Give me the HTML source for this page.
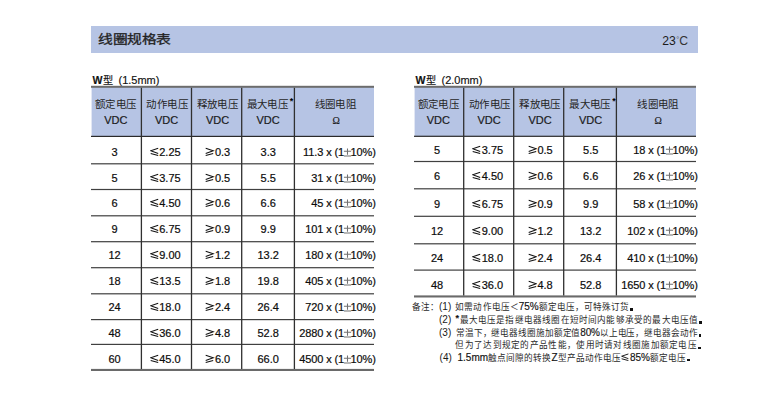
<!DOCTYPE html><html lang="zh-CN"><head><meta charset="utf-8"><style>
html,body{margin:0;padding:0;background:#fff}
body{width:760px;height:409px;position:relative;overflow:hidden;font-family:"Liberation Sans",sans-serif;color:#111}
.r{position:absolute}
.t,.hv,.hc,.lbl,.nt{position:absolute;white-space:nowrap;line-height:20px;font-size:11px}
.t{color:#0c0c0c;-webkit-text-stroke:0.2px #0c0c0c}
.g{display:inline-block;width:9.5px;height:0;position:relative;vertical-align:baseline}
.g svg{position:absolute;left:0;top:-11.5px}
.g2{width:9px}
.g2 svg{top:-11px;transform:scale(0.9);transform-origin:0 100%}
.hc{text-align:center;font-size:10.5px;color:#262626;letter-spacing:0.35px;text-indent:0.35px}
.hv{color:#1a1a1a;-webkit-text-stroke:0.2px #1a1a1a}
.st{font-size:9px;position:absolute;margin-left:1.3px;margin-top:-3px;color:#000;font-weight:bold}
.om{font-family:"Liberation Serif",serif;font-size:11px;display:inline-block;transform:scaleX(0.9)}
.lbl{color:#111;-webkit-text-stroke:0.15px #111}
.w{font-size:10.6px}
.pm{color:#555}
.tl5{letter-spacing:-0.1px}
.nt{font-size:8.6px;color:#2a2a2a;line-height:20px}
.nt .l{font-size:10px;color:#111;-webkit-text-stroke:0.15px #111}
.nt .lp{-webkit-text-stroke:0;color:#1a1a1a}
.dot{position:relative;color:transparent}
.dot:after{content:'';position:absolute;left:1.2px;bottom:1.5px;width:2.4px;height:2.4px;background:#111}
</style></head><body>
<div class="r" style="left:91.00px;top:26.00px;width:607.00px;height:27.00px;background:#b6c4e4"></div>
<div class="r" style="left:97.5px;top:29.4px;font-size:14.2px;transform:scale(1.04,0.88);transform-origin:0 14px;line-height:20px;white-space:nowrap;color:#222;-webkit-text-stroke:0.35px #222">线圈规格表</div>
<div class="r" style="left:662.3px;top:31px;font-size:12.2px;line-height:20px;white-space:nowrap;color:#1a1a1a">23<span style="font-size:7.5px;position:relative;top:-3px;margin-left:0.4px;color:#555">°</span><span style="color:#333">C</span></div>
<div class="lbl" style="left:92.60px;top:69.5px;"><b class="w">W</b><span style="font-size:10.2px;margin-left:0.3px">型</span><span style="margin-left:5.6px">(</span>1.5mm)</div>
<svg class="r" style="left:0;top:0" width="760" height="409"><rect x="91.6" y="86.8" width="282.4" height="49.500000000000014" fill="#b6c4e4"/></svg>
<div class="hc" style="left:55.65px;width:120px;top:94px">额定电压</div>
<div class="hv" style="left:55.90px;width:120px;text-align:center;top:110px">VDC</div>
<div class="hc" style="left:107.00px;width:120px;top:94px">动作电压</div>
<div class="hv" style="left:106.65px;width:120px;text-align:center;top:110px">VDC</div>
<div class="hc" style="left:157.20px;width:120px;top:94px">释放电压</div>
<div class="hv" style="left:157.65px;width:120px;text-align:center;top:110px">VDC</div>
<div class="hc" style="left:207.30px;width:120px;top:94px">最大电压<span class="st">*</span></div>
<div class="hv" style="left:208.00px;width:120px;text-align:center;top:110px">VDC</div>
<div class="hc" style="left:275.30px;width:120px;top:94px">线圈电阻</div>
<div class="hv" style="left:275.60px;width:120px;text-align:center;top:110px"><span class="om">Ω</span></div>
<div class="t" style="left:54.60px;width:120px;text-align:center;top:142px">3</div>
<div class="t" style="left:105.20px;width:120px;text-align:center;top:142px"><span class="g"><svg width="9.5" height="11" viewBox="0 0 9.5 11"><path d="M8.2 3.2L0.7 5.7L8.2 8.4M0.7 8.5L8.2 10.5" fill="none" stroke="#111" stroke-width="1.05"/></svg></span>2.25</div>
<div class="t" style="left:157.80px;width:120px;text-align:center;top:142px"><span class="g"><svg width="9.5" height="11" viewBox="0 0 9.5 11"><path d="M0.7 3.2L8.2 5.7L0.7 8.4M0.7 10.5L8.2 8.5" fill="none" stroke="#111" stroke-width="1.05"/></svg></span>0.3</div>
<div class="t" style="left:208.20px;width:120px;text-align:center;top:142px">3.3</div>
<div class="t tl5" style="right:384.20px;text-align:right;top:142px">11.3 x (1<span class="g" style="width:7.6px;margin-left:-1.2px"><svg width="8.6" height="13" viewBox="0 0 8.6 13"><path d="M0.9 6.3H8.1M4.5 3.4V9.8M0.9 11H8.1" fill="none" stroke="#707070" stroke-width="1.05"/></svg></span>10%)</div>
<div class="t" style="left:54.60px;width:120px;text-align:center;top:168px">5</div>
<div class="t" style="left:105.20px;width:120px;text-align:center;top:168px"><span class="g"><svg width="9.5" height="11" viewBox="0 0 9.5 11"><path d="M8.2 3.2L0.7 5.7L8.2 8.4M0.7 8.5L8.2 10.5" fill="none" stroke="#111" stroke-width="1.05"/></svg></span>3.75</div>
<div class="t" style="left:157.80px;width:120px;text-align:center;top:168px"><span class="g"><svg width="9.5" height="11" viewBox="0 0 9.5 11"><path d="M0.7 3.2L8.2 5.7L0.7 8.4M0.7 10.5L8.2 8.5" fill="none" stroke="#111" stroke-width="1.05"/></svg></span>0.5</div>
<div class="t" style="left:208.20px;width:120px;text-align:center;top:168px">5.5</div>
<div class="t tl5" style="right:384.20px;text-align:right;top:168px">31 x (1<span class="g" style="width:7.6px;margin-left:-1.2px"><svg width="8.6" height="13" viewBox="0 0 8.6 13"><path d="M0.9 6.3H8.1M4.5 3.4V9.8M0.9 11H8.1" fill="none" stroke="#707070" stroke-width="1.05"/></svg></span>10%)</div>
<div class="t" style="left:54.60px;width:120px;text-align:center;top:193px">6</div>
<div class="t" style="left:105.20px;width:120px;text-align:center;top:193px"><span class="g"><svg width="9.5" height="11" viewBox="0 0 9.5 11"><path d="M8.2 3.2L0.7 5.7L8.2 8.4M0.7 8.5L8.2 10.5" fill="none" stroke="#111" stroke-width="1.05"/></svg></span>4.50</div>
<div class="t" style="left:157.80px;width:120px;text-align:center;top:193px"><span class="g"><svg width="9.5" height="11" viewBox="0 0 9.5 11"><path d="M0.7 3.2L8.2 5.7L0.7 8.4M0.7 10.5L8.2 8.5" fill="none" stroke="#111" stroke-width="1.05"/></svg></span>0.6</div>
<div class="t" style="left:208.20px;width:120px;text-align:center;top:193px">6.6</div>
<div class="t tl5" style="right:384.20px;text-align:right;top:193px">45 x (1<span class="g" style="width:7.6px;margin-left:-1.2px"><svg width="8.6" height="13" viewBox="0 0 8.6 13"><path d="M0.9 6.3H8.1M4.5 3.4V9.8M0.9 11H8.1" fill="none" stroke="#707070" stroke-width="1.05"/></svg></span>10%)</div>
<div class="t" style="left:54.60px;width:120px;text-align:center;top:219px">9</div>
<div class="t" style="left:105.20px;width:120px;text-align:center;top:219px"><span class="g"><svg width="9.5" height="11" viewBox="0 0 9.5 11"><path d="M8.2 3.2L0.7 5.7L8.2 8.4M0.7 8.5L8.2 10.5" fill="none" stroke="#111" stroke-width="1.05"/></svg></span>6.75</div>
<div class="t" style="left:157.80px;width:120px;text-align:center;top:219px"><span class="g"><svg width="9.5" height="11" viewBox="0 0 9.5 11"><path d="M0.7 3.2L8.2 5.7L0.7 8.4M0.7 10.5L8.2 8.5" fill="none" stroke="#111" stroke-width="1.05"/></svg></span>0.9</div>
<div class="t" style="left:208.20px;width:120px;text-align:center;top:219px">9.9</div>
<div class="t tl5" style="right:384.20px;text-align:right;top:219px">101 x (1<span class="g" style="width:7.6px;margin-left:-1.2px"><svg width="8.6" height="13" viewBox="0 0 8.6 13"><path d="M0.9 6.3H8.1M4.5 3.4V9.8M0.9 11H8.1" fill="none" stroke="#707070" stroke-width="1.05"/></svg></span>10%)</div>
<div class="t" style="left:54.60px;width:120px;text-align:center;top:245px">12</div>
<div class="t" style="left:105.20px;width:120px;text-align:center;top:245px"><span class="g"><svg width="9.5" height="11" viewBox="0 0 9.5 11"><path d="M8.2 3.2L0.7 5.7L8.2 8.4M0.7 8.5L8.2 10.5" fill="none" stroke="#111" stroke-width="1.05"/></svg></span>9.00</div>
<div class="t" style="left:157.80px;width:120px;text-align:center;top:245px"><span class="g"><svg width="9.5" height="11" viewBox="0 0 9.5 11"><path d="M0.7 3.2L8.2 5.7L0.7 8.4M0.7 10.5L8.2 8.5" fill="none" stroke="#111" stroke-width="1.05"/></svg></span>1.2</div>
<div class="t" style="left:208.20px;width:120px;text-align:center;top:245px">13.2</div>
<div class="t tl5" style="right:384.20px;text-align:right;top:245px">180 x (1<span class="g" style="width:7.6px;margin-left:-1.2px"><svg width="8.6" height="13" viewBox="0 0 8.6 13"><path d="M0.9 6.3H8.1M4.5 3.4V9.8M0.9 11H8.1" fill="none" stroke="#707070" stroke-width="1.05"/></svg></span>10%)</div>
<div class="t" style="left:54.60px;width:120px;text-align:center;top:271px">18</div>
<div class="t" style="left:105.20px;width:120px;text-align:center;top:271px"><span class="g"><svg width="9.5" height="11" viewBox="0 0 9.5 11"><path d="M8.2 3.2L0.7 5.7L8.2 8.4M0.7 8.5L8.2 10.5" fill="none" stroke="#111" stroke-width="1.05"/></svg></span>13.5</div>
<div class="t" style="left:157.80px;width:120px;text-align:center;top:271px"><span class="g"><svg width="9.5" height="11" viewBox="0 0 9.5 11"><path d="M0.7 3.2L8.2 5.7L0.7 8.4M0.7 10.5L8.2 8.5" fill="none" stroke="#111" stroke-width="1.05"/></svg></span>1.8</div>
<div class="t" style="left:208.20px;width:120px;text-align:center;top:271px">19.8</div>
<div class="t tl5" style="right:384.20px;text-align:right;top:271px">405 x (1<span class="g" style="width:7.6px;margin-left:-1.2px"><svg width="8.6" height="13" viewBox="0 0 8.6 13"><path d="M0.9 6.3H8.1M4.5 3.4V9.8M0.9 11H8.1" fill="none" stroke="#707070" stroke-width="1.05"/></svg></span>10%)</div>
<div class="t" style="left:54.60px;width:120px;text-align:center;top:297px">24</div>
<div class="t" style="left:105.20px;width:120px;text-align:center;top:297px"><span class="g"><svg width="9.5" height="11" viewBox="0 0 9.5 11"><path d="M8.2 3.2L0.7 5.7L8.2 8.4M0.7 8.5L8.2 10.5" fill="none" stroke="#111" stroke-width="1.05"/></svg></span>18.0</div>
<div class="t" style="left:157.80px;width:120px;text-align:center;top:297px"><span class="g"><svg width="9.5" height="11" viewBox="0 0 9.5 11"><path d="M0.7 3.2L8.2 5.7L0.7 8.4M0.7 10.5L8.2 8.5" fill="none" stroke="#111" stroke-width="1.05"/></svg></span>2.4</div>
<div class="t" style="left:208.20px;width:120px;text-align:center;top:297px">26.4</div>
<div class="t tl5" style="right:384.20px;text-align:right;top:297px">720 x (1<span class="g" style="width:7.6px;margin-left:-1.2px"><svg width="8.6" height="13" viewBox="0 0 8.6 13"><path d="M0.9 6.3H8.1M4.5 3.4V9.8M0.9 11H8.1" fill="none" stroke="#707070" stroke-width="1.05"/></svg></span>10%)</div>
<div class="t" style="left:54.60px;width:120px;text-align:center;top:323px">48</div>
<div class="t" style="left:105.20px;width:120px;text-align:center;top:323px"><span class="g"><svg width="9.5" height="11" viewBox="0 0 9.5 11"><path d="M8.2 3.2L0.7 5.7L8.2 8.4M0.7 8.5L8.2 10.5" fill="none" stroke="#111" stroke-width="1.05"/></svg></span>36.0</div>
<div class="t" style="left:157.80px;width:120px;text-align:center;top:323px"><span class="g"><svg width="9.5" height="11" viewBox="0 0 9.5 11"><path d="M0.7 3.2L8.2 5.7L0.7 8.4M0.7 10.5L8.2 8.5" fill="none" stroke="#111" stroke-width="1.05"/></svg></span>4.8</div>
<div class="t" style="left:208.20px;width:120px;text-align:center;top:323px">52.8</div>
<div class="t tl5" style="right:384.20px;text-align:right;top:323px">2880 x (1<span class="g" style="width:7.6px;margin-left:-1.2px"><svg width="8.6" height="13" viewBox="0 0 8.6 13"><path d="M0.9 6.3H8.1M4.5 3.4V9.8M0.9 11H8.1" fill="none" stroke="#707070" stroke-width="1.05"/></svg></span>10%)</div>
<div class="t" style="left:54.60px;width:120px;text-align:center;top:349px">60</div>
<div class="t" style="left:105.20px;width:120px;text-align:center;top:349px"><span class="g"><svg width="9.5" height="11" viewBox="0 0 9.5 11"><path d="M8.2 3.2L0.7 5.7L8.2 8.4M0.7 8.5L8.2 10.5" fill="none" stroke="#111" stroke-width="1.05"/></svg></span>45.0</div>
<div class="t" style="left:157.80px;width:120px;text-align:center;top:349px"><span class="g"><svg width="9.5" height="11" viewBox="0 0 9.5 11"><path d="M0.7 3.2L8.2 5.7L0.7 8.4M0.7 10.5L8.2 8.5" fill="none" stroke="#111" stroke-width="1.05"/></svg></span>6.0</div>
<div class="t" style="left:208.20px;width:120px;text-align:center;top:349px">66.0</div>
<div class="t tl5" style="right:384.20px;text-align:right;top:349px">4500 x (1<span class="g" style="width:7.6px;margin-left:-1.2px"><svg width="8.6" height="13" viewBox="0 0 8.6 13"><path d="M0.9 6.3H8.1M4.5 3.4V9.8M0.9 11H8.1" fill="none" stroke="#707070" stroke-width="1.05"/></svg></span>10%)</div>
<svg class="r" style="left:0;top:0" width="760" height="409" viewBox="0 0 760 409"><rect x="91" y="85.8" width="283" height="2" fill="#6c6c6c"/><rect x="91" y="135.8" width="283" height="1.2" fill="#2a2a2a"/><rect x="91" y="163.20000000000002" width="283" height="1.2" fill="#404040"/><rect x="91" y="188.9" width="283" height="1.2" fill="#404040"/><rect x="91" y="215.20000000000002" width="283" height="1.2" fill="#404040"/><rect x="91" y="241.1" width="283" height="1.2" fill="#404040"/><rect x="91" y="267.09999999999997" width="283" height="1.2" fill="#404040"/><rect x="91" y="293.2" width="283" height="1.2" fill="#404040"/><rect x="91" y="319.0" width="283" height="1.2" fill="#404040"/><rect x="91" y="343.79999999999995" width="283" height="1.2" fill="#404040"/><rect x="91" y="368.9" width="283" height="2.1" fill="#6a6a6a"/><rect x="140.75" y="87.8" width="1.3" height="281.2" fill="#303030"/><rect x="190.85" y="87.8" width="1.3" height="281.2" fill="#303030"/><rect x="241.04999999999998" y="87.8" width="1.3" height="281.2" fill="#303030"/><rect x="293.75" y="87.8" width="1.3" height="281.2" fill="#303030"/></svg>
<div class="lbl" style="left:415.60px;top:69.5px;"><b class="w">W</b><span style="font-size:10.2px;margin-left:0.3px">型</span><span style="margin-left:5.6px">(</span>2.0mm)</div>
<svg class="r" style="left:0;top:0" width="760" height="409"><rect x="414.6" y="86.8" width="281.4" height="49.39999999999999" fill="#b6c4e4"/></svg>
<div class="hc" style="left:378.15px;width:120px;top:94px">额定电压</div>
<div class="hv" style="left:378.40px;width:120px;text-align:center;top:110px">VDC</div>
<div class="hc" style="left:429.50px;width:120px;top:94px">动作电压</div>
<div class="hv" style="left:429.15px;width:120px;text-align:center;top:110px">VDC</div>
<div class="hc" style="left:479.70px;width:120px;top:94px">释放电压</div>
<div class="hv" style="left:480.15px;width:120px;text-align:center;top:110px">VDC</div>
<div class="hc" style="left:529.80px;width:120px;top:94px">最大电压<span class="st">*</span></div>
<div class="hv" style="left:530.50px;width:120px;text-align:center;top:110px">VDC</div>
<div class="hc" style="left:597.80px;width:120px;top:94px">线圈电阻</div>
<div class="hv" style="left:598.10px;width:120px;text-align:center;top:110px"><span class="om">Ω</span></div>
<div class="t" style="left:377.10px;width:120px;text-align:center;top:140px">5</div>
<div class="t" style="left:427.70px;width:120px;text-align:center;top:140px"><span class="g"><svg width="9.5" height="11" viewBox="0 0 9.5 11"><path d="M8.2 3.2L0.7 5.7L8.2 8.4M0.7 8.5L8.2 10.5" fill="none" stroke="#111" stroke-width="1.05"/></svg></span>3.75</div>
<div class="t" style="left:480.30px;width:120px;text-align:center;top:140px"><span class="g"><svg width="9.5" height="11" viewBox="0 0 9.5 11"><path d="M0.7 3.2L8.2 5.7L0.7 8.4M0.7 10.5L8.2 8.5" fill="none" stroke="#111" stroke-width="1.05"/></svg></span>0.5</div>
<div class="t" style="left:530.70px;width:120px;text-align:center;top:140px">5.5</div>
<div class="t tl5" style="right:62.20px;text-align:right;top:140px">18 x (1<span class="g" style="width:7.6px;margin-left:-1.2px"><svg width="8.6" height="13" viewBox="0 0 8.6 13"><path d="M0.9 6.3H8.1M4.5 3.4V9.8M0.9 11H8.1" fill="none" stroke="#707070" stroke-width="1.05"/></svg></span>10%)</div>
<div class="t" style="left:377.10px;width:120px;text-align:center;top:166px">6</div>
<div class="t" style="left:427.70px;width:120px;text-align:center;top:166px"><span class="g"><svg width="9.5" height="11" viewBox="0 0 9.5 11"><path d="M8.2 3.2L0.7 5.7L8.2 8.4M0.7 8.5L8.2 10.5" fill="none" stroke="#111" stroke-width="1.05"/></svg></span>4.50</div>
<div class="t" style="left:480.30px;width:120px;text-align:center;top:166px"><span class="g"><svg width="9.5" height="11" viewBox="0 0 9.5 11"><path d="M0.7 3.2L8.2 5.7L0.7 8.4M0.7 10.5L8.2 8.5" fill="none" stroke="#111" stroke-width="1.05"/></svg></span>0.6</div>
<div class="t" style="left:530.70px;width:120px;text-align:center;top:166px">6.6</div>
<div class="t tl5" style="right:62.20px;text-align:right;top:166px">26 x (1<span class="g" style="width:7.6px;margin-left:-1.2px"><svg width="8.6" height="13" viewBox="0 0 8.6 13"><path d="M0.9 6.3H8.1M4.5 3.4V9.8M0.9 11H8.1" fill="none" stroke="#707070" stroke-width="1.05"/></svg></span>10%)</div>
<div class="t" style="left:377.10px;width:120px;text-align:center;top:194px">9</div>
<div class="t" style="left:427.70px;width:120px;text-align:center;top:194px"><span class="g"><svg width="9.5" height="11" viewBox="0 0 9.5 11"><path d="M8.2 3.2L0.7 5.7L8.2 8.4M0.7 8.5L8.2 10.5" fill="none" stroke="#111" stroke-width="1.05"/></svg></span>6.75</div>
<div class="t" style="left:480.30px;width:120px;text-align:center;top:194px"><span class="g"><svg width="9.5" height="11" viewBox="0 0 9.5 11"><path d="M0.7 3.2L8.2 5.7L0.7 8.4M0.7 10.5L8.2 8.5" fill="none" stroke="#111" stroke-width="1.05"/></svg></span>0.9</div>
<div class="t" style="left:530.70px;width:120px;text-align:center;top:194px">9.9</div>
<div class="t tl5" style="right:62.20px;text-align:right;top:194px">58 x (1<span class="g" style="width:7.6px;margin-left:-1.2px"><svg width="8.6" height="13" viewBox="0 0 8.6 13"><path d="M0.9 6.3H8.1M4.5 3.4V9.8M0.9 11H8.1" fill="none" stroke="#707070" stroke-width="1.05"/></svg></span>10%)</div>
<div class="t" style="left:377.10px;width:120px;text-align:center;top:221px">12</div>
<div class="t" style="left:427.70px;width:120px;text-align:center;top:221px"><span class="g"><svg width="9.5" height="11" viewBox="0 0 9.5 11"><path d="M8.2 3.2L0.7 5.7L8.2 8.4M0.7 8.5L8.2 10.5" fill="none" stroke="#111" stroke-width="1.05"/></svg></span>9.00</div>
<div class="t" style="left:480.30px;width:120px;text-align:center;top:221px"><span class="g"><svg width="9.5" height="11" viewBox="0 0 9.5 11"><path d="M0.7 3.2L8.2 5.7L0.7 8.4M0.7 10.5L8.2 8.5" fill="none" stroke="#111" stroke-width="1.05"/></svg></span>1.2</div>
<div class="t" style="left:530.70px;width:120px;text-align:center;top:221px">13.2</div>
<div class="t tl5" style="right:62.20px;text-align:right;top:221px">102 x (1<span class="g" style="width:7.6px;margin-left:-1.2px"><svg width="8.6" height="13" viewBox="0 0 8.6 13"><path d="M0.9 6.3H8.1M4.5 3.4V9.8M0.9 11H8.1" fill="none" stroke="#707070" stroke-width="1.05"/></svg></span>10%)</div>
<div class="t" style="left:377.10px;width:120px;text-align:center;top:248px">24</div>
<div class="t" style="left:427.70px;width:120px;text-align:center;top:248px"><span class="g"><svg width="9.5" height="11" viewBox="0 0 9.5 11"><path d="M8.2 3.2L0.7 5.7L8.2 8.4M0.7 8.5L8.2 10.5" fill="none" stroke="#111" stroke-width="1.05"/></svg></span>18.0</div>
<div class="t" style="left:480.30px;width:120px;text-align:center;top:248px"><span class="g"><svg width="9.5" height="11" viewBox="0 0 9.5 11"><path d="M0.7 3.2L8.2 5.7L0.7 8.4M0.7 10.5L8.2 8.5" fill="none" stroke="#111" stroke-width="1.05"/></svg></span>2.4</div>
<div class="t" style="left:530.70px;width:120px;text-align:center;top:248px">26.4</div>
<div class="t tl5" style="right:62.20px;text-align:right;top:248px">410 x (1<span class="g" style="width:7.6px;margin-left:-1.2px"><svg width="8.6" height="13" viewBox="0 0 8.6 13"><path d="M0.9 6.3H8.1M4.5 3.4V9.8M0.9 11H8.1" fill="none" stroke="#707070" stroke-width="1.05"/></svg></span>10%)</div>
<div class="t" style="left:377.10px;width:120px;text-align:center;top:275px">48</div>
<div class="t" style="left:427.70px;width:120px;text-align:center;top:275px"><span class="g"><svg width="9.5" height="11" viewBox="0 0 9.5 11"><path d="M8.2 3.2L0.7 5.7L8.2 8.4M0.7 8.5L8.2 10.5" fill="none" stroke="#111" stroke-width="1.05"/></svg></span>36.0</div>
<div class="t" style="left:480.30px;width:120px;text-align:center;top:275px"><span class="g"><svg width="9.5" height="11" viewBox="0 0 9.5 11"><path d="M0.7 3.2L8.2 5.7L0.7 8.4M0.7 10.5L8.2 8.5" fill="none" stroke="#111" stroke-width="1.05"/></svg></span>4.8</div>
<div class="t" style="left:530.70px;width:120px;text-align:center;top:275px">52.8</div>
<div class="t tl5" style="right:62.20px;text-align:right;top:275px">1650 x (1<span class="g" style="width:7.6px;margin-left:-1.2px"><svg width="8.6" height="13" viewBox="0 0 8.6 13"><path d="M0.9 6.3H8.1M4.5 3.4V9.8M0.9 11H8.1" fill="none" stroke="#707070" stroke-width="1.05"/></svg></span>10%)</div>
<svg class="r" style="left:0;top:0" width="760" height="409" viewBox="0 0 760 409"><rect x="414" y="85.8" width="282" height="2" fill="#6c6c6c"/><rect x="414" y="135.7" width="282" height="1.2" fill="#2a2a2a"/><rect x="414" y="160.9" width="282" height="1.2" fill="#404040"/><rect x="414" y="188.20000000000002" width="282" height="1.2" fill="#404040"/><rect x="414" y="215.70000000000002" width="282" height="1.2" fill="#404040"/><rect x="414" y="243.20000000000002" width="282" height="1.2" fill="#404040"/><rect x="414" y="269.5" width="282" height="1.2" fill="#404040"/><rect x="414" y="295.4" width="282" height="2.1" fill="#6a6a6a"/><rect x="463.05" y="87.8" width="1.3" height="207.7" fill="#303030"/><rect x="513.0500000000001" y="87.8" width="1.3" height="207.7" fill="#303030"/><rect x="563.0500000000001" y="87.8" width="1.3" height="207.7" fill="#303030"/><rect x="615.75" y="87.8" width="1.3" height="207.7" fill="#303030"/></svg>
<div class="nt" style="left:412.4px;top:297px">备注：</div>
<div class="nt" style="left:439px;top:297px"><span class="l lp">(1)</span></div>
<div class="nt" style="left:455.4px;top:297px;width:182.90px;text-align:justify;text-align-last:justify">如需动作电压＜<span class="l">75%</span>额定电压，可特殊订货<span class="dot">．</span></div>
<div class="nt" style="left:439px;top:310px"><span class="l lp">(2)</span></div>
<div class="nt" style="left:455.4px;top:310px;width:251.90px;text-align:justify;text-align-last:justify"><span class="l" style="font-size:9px;font-weight:bold;position:relative;top:-2px;margin-right:0.5px">*</span>最大电压是指继电器线圈在短时间内能够承受的最大电压值<span class="dot">．</span></div>
<div class="nt" style="left:439px;top:323px"><span class="l lp">(3)</span></div>
<div class="nt" style="left:455.9px;top:323px;width:250.70px;text-align:justify;text-align-last:justify"><span style="letter-spacing:-0.2px">常温下，继电器线圈施加额定值<span class="l">80%</span>以上电压，继电器会动作</span><span class="dot">．</span></div>
<div class="nt" style="left:455.4px;top:335.4px;width:250.70px;text-align:justify;text-align-last:justify">但为了达到规定的产品性能，使用时请对线圈施加额定电压<span class="dot">．</span></div>
<div class="nt" style="left:439.6px;top:347.6px"><span class="l lp">(4)</span></div>
<div class="nt" style="left:457.5px;top:347.6px;width:237.60px;text-align:justify;text-align-last:justify"><span class="l">1.5mm</span>触点间隙的转换<span class="l">Z</span>型产品动作电压<span class="g g2"><svg width="9.5" height="11" viewBox="0 0 9.5 11"><path d="M8.2 3.2L0.7 5.7L8.2 8.4M0.7 8.5L8.2 10.5" fill="none" stroke="#111" stroke-width="1.05"/></svg></span><span class="l">85%</span>额定电压<span class="dot">．</span></div>
</body></html>
